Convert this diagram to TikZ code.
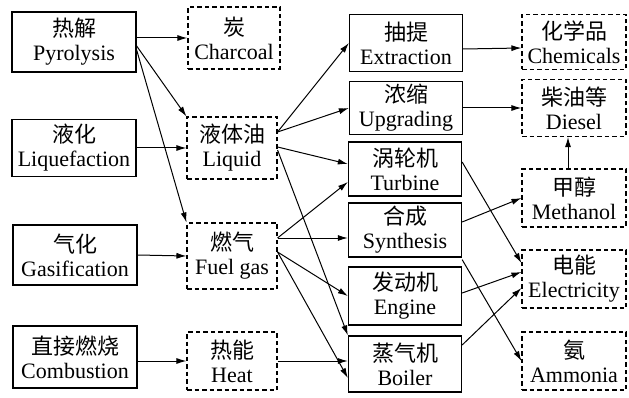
\documentclass[tikz,border=0pt]{standalone}
\usepackage{fontspec}
\setmainfont{Liberation Serif}
\newfontfamily\cjk{Noto Sans CJK SC}
\usetikzlibrary{arrows.meta}

\tikzset{
  proc/.style={draw, line width=1.3pt, align=center, inner sep=0pt,
    minimum height=57pt, font=\fontsize{22}{24}\selectfont},
  prod/.style={proc, line width=1.1pt, dash pattern=on 4.5pt off 3pt},
  arr/.style={-{Latex[length=10pt,width=6pt]}, line width=1pt}
}

\begin{document}
\begin{tikzpicture}[x=1pt,y=-1pt]
\useasboundingbox (0,0) rectangle (629,398);

% Conversion routes
\node[proc, minimum width=124pt, minimum height=60pt] (pyro) at (74,42) {{\cjk 热解}\\Pyrolysis};
\node[proc, minimum width=124pt] (liqf) at (74,148) {{\cjk 液化}\\Liquefaction};
\node[proc, minimum width=124pt, minimum height=60pt] (gasf) at (75,255) {{\cjk 气化}\\Gasification};
\node[proc, minimum width=124pt, minimum height=62pt] (comb) at (75,357) {{\cjk 直接燃烧}\\Combustion};

% Intermediate products
\node[prod, minimum width=92pt, minimum height=62pt] (char) at (234,38) {{\cjk 炭}\\Charcoal};
\node[prod, minimum width=90pt, minimum height=62pt] (liq) at (232,148) {{\cjk 液体油}\\Liquid};
\node[prod, minimum width=90pt, minimum height=66pt] (fuel) at (232,256) {{\cjk 燃气}\\Fuel gas};
\node[prod, minimum width=90pt, minimum height=58pt] (heat) at (232,361) {{\cjk 热能}\\Heat};

% Processing
\node[proc, minimum width=113pt] (extr) at (406,43) {{\cjk 抽提}\\Extraction};
\node[proc, minimum width=113pt, minimum height=53pt] (upgr) at (406,108) {{\cjk 浓缩}\\Upgrading};
\node[proc, minimum width=113pt, minimum height=54pt] (turb) at (405,169) {{\cjk 涡轮机}\\Turbine};
\node[proc, minimum width=113pt, minimum height=54pt] (synt) at (405,230) {{\cjk 合成}\\Synthesis};
\node[proc, minimum width=113pt, minimum height=58pt] (engi) at (405,296) {{\cjk 发动机}\\Engine};
\node[proc, minimum width=113pt, minimum height=56pt] (boil) at (405,364) {{\cjk 蒸气机}\\Boiler};

% End products
\node[prod, minimum width=104pt, minimum height=55pt] (chem) at (574,42) {{\cjk 化学品}\\Chemicals};
\node[prod, minimum width=104pt] (dies) at (574,108) {{\cjk 柴油等}\\Diesel};
\node[prod, minimum width=104pt, minimum height=58pt] (meth) at (574,198) {{\cjk 甲醇}\\Methanol};
\node[prod, minimum width=104pt, minimum height=58pt] (elec) at (574,279) {{\cjk 电能}\\Electricity};
\node[prod, minimum width=104pt, minimum height=58pt] (ammo) at (574,361) {{\cjk 氨}\\Ammonia};

% Routes to intermediates
\draw[arr] (pyro.east |- char) -- (char.west);
\draw[arr] ([yshift=-4pt]pyro.east) -- (liq.north west);
\draw[arr] ([yshift=-8pt]pyro.east) -- (fuel.north west);
\draw[arr] (liqf.east) -- (liq.west);
\draw[arr] (gasf.east) -- (fuel.west);
\draw[arr] (comb.east |- heat) -- (heat.west);

% Intermediates to processing
\draw[arr] ([yshift=16pt]liq.east) -- (extr.west);
\draw[arr] ([yshift=16pt]liq.east) -- (upgr.west);
\draw[arr] ([yshift=1pt]liq.east) -- ([yshift=5pt]turb.west);
\draw[arr] ([yshift=-2pt]liq.east) -- (boil.north west);
\draw[arr] ([yshift=18pt]fuel.east) -- ([yshift=-13pt]turb.west);
\draw[arr] ([yshift=18pt]fuel.east) -- ([yshift=-8pt]synt.west);
\draw[arr] ([yshift=4pt]fuel.east) -- (engi.west);
\draw[arr] ([yshift=4pt]fuel.east) -- ([yshift=-14pt]boil.west);
\draw[arr] (heat.east) -- (boil.west |- heat);

% Processing to end products
\draw[arr] ([yshift=-6pt]extr.east) -- ([yshift=-6pt]chem.west);
\draw[arr] (upgr.east) -- (dies.west);
\draw[arr] ([xshift=-6pt]meth.north) -- ([xshift=-6pt]dies.south);
\draw[arr] ([yshift=7pt]turb.east) -- ([yshift=16pt]elec.west);
\draw[arr] ([yshift=8pt]synt.east) -- (meth.west);
\draw[arr] ([yshift=-2pt]synt.south east) -- (ammo.west);
\draw[arr] ([yshift=3pt]engi.east) -- ([yshift=7pt]elec.west);
\draw[arr] ([yshift=19pt]boil.east) -- ([yshift=-9pt]elec.west);

\end{tikzpicture}
\end{document}
